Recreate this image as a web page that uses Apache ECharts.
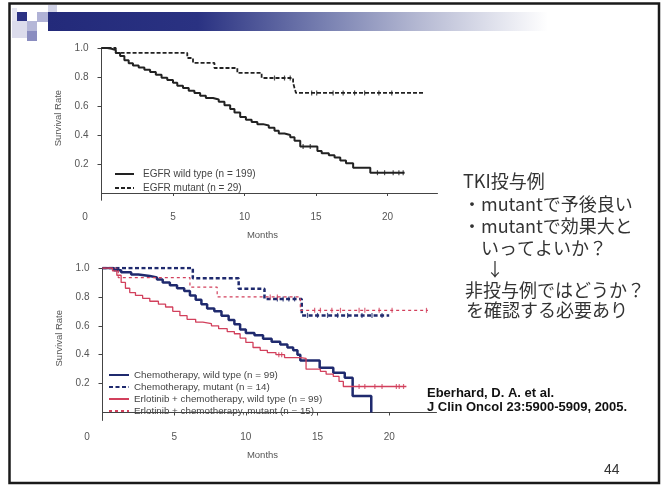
<!DOCTYPE html>
<html>
<head>
<meta charset="utf-8">
<script src="https://cdn.jsdelivr.net/npm/echarts@6/dist/echarts.min.js"></script>
<style>
  html, body { margin: 0; padding: 0; background: #fff; }
  #chart { width: 665px; height: 487px; }
</style>
</head>
<body>
<div id="chart"></div>
<script>
// ---- axis ticks ----
const monthLabels = [5, 10, 15, 20];
const rateLabels = [0.2, 0.4, 0.6, 0.8, 1.0];

// ---- upper panel: all patients treated with erlotinib + chemo, by EGFR status ----
const upperNames = ['EGFR wild type (n = 199)', 'EGFR mutant (n = 29)'];
// [month, survival] at each drop of the Kaplan-Meier curve
const upperWild = [
  [0, 1], [0.4, 0.995], [0.7, 0.985], [1.0, 0.965], [1.3, 0.945], [1.6, 0.915], [1.9, 0.895],
  [2.2, 0.88], [2.6, 0.865], [3.0, 0.85], [3.4, 0.835], [3.8, 0.815], [4.2, 0.795], [4.6, 0.78],
  [5.0, 0.76], [5.3, 0.74], [5.7, 0.725], [6.1, 0.705], [6.5, 0.69], [6.9, 0.67], [7.3, 0.655],
  [7.8, 0.645], [8.2, 0.63], [8.6, 0.605], [9.0, 0.58], [9.3, 0.555], [9.7, 0.525], [10.1, 0.505],
  [10.5, 0.49], [10.9, 0.475], [11.3, 0.465], [11.7, 0.45], [12.1, 0.43], [12.4, 0.41], [12.8, 0.40],
  [13.2, 0.385], [13.5, 0.36], [13.9, 0.32], [15.1, 0.29], [15.4, 0.275], [15.9, 0.26], [16.3, 0.245],
  [16.7, 0.225], [17.1, 0.205], [17.6, 0.175], [18.8, 0.14], [21.2, 0.14]
];
const upperMutant = [
  [0, 1], [1.0, 0.966], [6.0, 0.931], [6.4, 0.897], [7.9, 0.862], [9.5, 0.828],
  [11.2, 0.793], [13.4, 0.759], [13.5, 0.724], [13.6, 0.69], [22.5, 0.69]
];
const upperWildCensored = [
  [14.1, 0.32], [14.6, 0.32], [19.3, 0.14], [19.8, 0.14], [20.4, 0.14], [20.8, 0.14], [21.1, 0.14]
];
const upperMutantCensored = [
  [12.1, 0.793], [12.8, 0.793], [13.2, 0.793], [14.7, 0.69], [15.05, 0.69], [16.2, 0.69],
  [16.9, 0.69], [17.7, 0.69], [18.4, 0.69], [19.4, 0.69], [20.3, 0.69]
];

// ---- lower panel: by treatment arm and EGFR status ----
const lowerNames = [
  'Chemotherapy, wild type (n = 99)',
  'Chemotherapy, mutant (n = 14)',
  'Erlotinib + chemotherapy, wild type (n = 99)',
  'Erlotinib + chemotherapy, mutant (n = 15)'
];
const chemoWild = [
  [0, 1], [0.8, 0.985], [1.3, 0.97], [2.0, 0.955], [2.5, 0.945], [3.3, 0.935], [3.8, 0.92],
  [4.2, 0.90], [4.7, 0.88], [5.2, 0.86], [5.7, 0.84], [6.1, 0.81], [6.5, 0.78], [6.9, 0.75],
  [7.3, 0.72], [7.8, 0.70], [8.3, 0.67], [8.8, 0.64], [9.2, 0.61], [9.6, 0.575], [10.0, 0.55],
  [10.6, 0.535], [11.2, 0.51], [11.8, 0.49], [12.4, 0.47], [12.9, 0.45], [13.3, 0.43],
  [13.6, 0.40], [13.8, 0.36], [15.15, 0.31], [16.1, 0.275], [16.9, 0.24], [17.45, 0.115],
  [18.75, 0.0]
];
const chemoMutant = [
  [0, 1], [6.3, 0.929], [9.5, 0.857], [11.3, 0.786], [13.9, 0.672], [20.0, 0.672]
];
const erlotinibWild = [
  [0, 1], [0.7, 0.98], [1.0, 0.95], [1.3, 0.90], [1.6, 0.86], [1.9, 0.83], [2.3, 0.81],
  [2.8, 0.79], [3.3, 0.77], [3.9, 0.75], [4.4, 0.73], [4.9, 0.70], [5.4, 0.67], [5.9, 0.645],
  [6.5, 0.625], [7.0, 0.615], [7.6, 0.60], [8.1, 0.58], [8.7, 0.56], [9.2, 0.545], [9.6, 0.515],
  [10.0, 0.485], [10.5, 0.45], [11.0, 0.43], [11.5, 0.415], [12.1, 0.40], [12.7, 0.38],
  [13.8, 0.375], [14.2, 0.30], [15.2, 0.285], [15.6, 0.265], [16.1, 0.25], [16.5, 0.215],
  [16.8, 0.18], [21.2, 0.18]
];
const erlotinibMutant = [
  [0, 1], [1.1, 0.933], [6.1, 0.867], [8.0, 0.80], [13.8, 0.707], [22.7, 0.707]
];
const chemoMutantCensored = [
  [12.2, 0.786], [12.6, 0.786], [13.0, 0.786], [13.4, 0.786], [14.3, 0.672], [15.0, 0.672],
  [15.7, 0.672], [16.4, 0.672], [17.1, 0.672], [18.1, 0.672], [18.8, 0.672], [19.5, 0.672]
];
const erlotinibWildCensored = [
  [12.3, 0.40], [12.5, 0.40], [17.9, 0.18], [18.3, 0.18], [19.0, 0.18], [19.5, 0.18],
  [20.5, 0.18], [20.7, 0.18], [21.0, 0.18]
];
const erlotinibMutantCensored = [
  [11.7, 0.80], [12.2, 0.80], [14.8, 0.707], [15.2, 0.707], [16.0, 0.707], [16.6, 0.707],
  [17.9, 0.707], [18.3, 0.707], [19.3, 0.707], [20.2, 0.707], [22.6, 0.707]
];

// ---- slide text ----
const noteLines = [
  { text: 'TKI投与例', x: 463, y: 181.5 },
  { text: '・mutantで予後良い', x: 463, y: 204.5 },
  { text: '・mutantで効果大と', x: 463, y: 226.5 },
  { text: 'いってよいか？', x: 481, y: 248 },
  { text: '↓', x: 486, y: 269 },
  { text: '非投与例ではどうか？', x: 465, y: 290 },
  { text: 'を確認する必要あり', x: 466, y: 310.5 }
];
const citation = ['Eberhard, D. A. et al.', 'J Clin Oncol 23:5900-5909, 2005.'];
const pageNumber = '44';

const NAVY = '#1f2a6e';
const RED = '#d2405c';
const INK = '#222';
const AXIS_GREY = '#555';
const LATIN = "'Liberation Sans', Arial, sans-serif";
const JP = "'Noto Sans CJK JP', sans-serif";

function xAxisFor(gridIndex, max) {
  return {
    type: 'value', gridIndex, min: 0, max, interval: 5,
    name: 'Months', nameLocation: 'middle', nameGap: 30,
    nameTextStyle: { fontFamily: LATIN, fontSize: 9.5, color: AXIS_GREY, padding: [0, 14, 0, 0] },
    axisLine: { show: true, lineStyle: { color: '#444', width: 1 } },
    axisTick: { show: true, length: 3, customValues: monthLabels, lineStyle: { color: '#444' } },
    axisLabel: { customValues: monthLabels, margin: 12, fontFamily: LATIN, fontSize: 10, color: AXIS_GREY },
    splitLine: { show: false }
  };
}
function yAxisFor(gridIndex, min) {
  return {
    type: 'value', gridIndex, min, max: 1.0,
    name: 'Survival Rate', nameLocation: 'middle', nameGap: 37, nameRotate: 90,
    nameTextStyle: { fontFamily: LATIN, fontSize: 9.5, color: AXIS_GREY, padding: [0, 0, 0, 12] },
    axisLine: { show: true, lineStyle: { color: '#444', width: 1 } },
    axisTick: { show: true, length: 4, customValues: rateLabels, lineStyle: { color: '#444' } },
    axisLabel: {
      customValues: rateLabels, margin: 13, fontFamily: LATIN, fontSize: 10, color: AXIS_GREY,
      formatter: v => v.toFixed(1)
    },
    splitLine: { show: false }
  };
}
function curve(name, data, idx, color, width, dashed) {
  return {
    name, type: 'line', step: 'end', data, xAxisIndex: idx, yAxisIndex: idx,
    showSymbol: false, symbol: 'none', animation: false, silent: true,
    lineStyle: { color, width, type: dashed ? dashed : 'solid' },
    itemStyle: { color }
  };
}
function ticks(data, idx, color) {
  return {
    type: 'scatter', data, xAxisIndex: idx, yAxisIndex: idx, animation: false, silent: true,
    symbol: 'rect', symbolSize: [1.2, 5], itemStyle: { color }, z: 3
  };
}

const graphic = [
  // slide frame
  { type: 'rect', shape: { x: 9.5, y: 3.5, width: 649.5, height: 479.5 },
    style: { fill: 'none', stroke: '#1a1a1a', lineWidth: 2.5 }, z: 10 },
  // title band
  { type: 'rect', shape: { x: 48, y: 12, width: 500, height: 19 },
    style: { fill: { type: 'linear', x: 0, y: 0, x2: 1, y2: 0, colorStops: [
      { offset: 0, color: '#232a7a' }, { offset: 0.3, color: '#2a3282' },
      { offset: 0.56, color: '#7a82b2' }, { offset: 0.74, color: '#b4b8d2' },
      { offset: 1, color: '#ffffff' } ] } } },
  // decorative squares
  { type: 'rect', shape: { x: 12, y: 21, width: 15, height: 17 }, style: { fill: '#dcdcec' } },
  { type: 'rect', shape: { x: 12, y: 8, width: 5, height: 13 }, style: { fill: '#e4e4f0' } },
  { type: 'rect', shape: { x: 17, y: 12, width: 10, height: 9 }, style: { fill: '#2b3183' } },
  { type: 'rect', shape: { x: 27, y: 21, width: 10, height: 10 }, style: { fill: '#b5b7d8' } },
  { type: 'rect', shape: { x: 27, y: 31, width: 10, height: 10 }, style: { fill: '#8a8dc0' } },
  { type: 'rect', shape: { x: 37, y: 12, width: 11, height: 10 }, style: { fill: '#b0b2d6' } },
  { type: 'rect', shape: { x: 48, y: 5, width: 9, height: 7 }, style: { fill: '#d0d2e6' } },
  // origin labels of both panels
  { type: 'text', x: 85, y: 217.5, style: { text: '0', fontFamily: LATIN, fontSize: 10, fill: AXIS_GREY, align: 'center', verticalAlign: 'middle' } },
  { type: 'text', x: 87, y: 437, style: { text: '0', fontFamily: LATIN, fontSize: 10, fill: AXIS_GREY, align: 'center', verticalAlign: 'middle' } },
  // citation and page number
  { type: 'text', x: 427, y: 393.5, style: { text: citation[0], fontFamily: LATIN, fontWeight: 'bold', fontSize: 13, fill: '#111', verticalAlign: 'middle' } },
  { type: 'text', x: 427, y: 407.5, style: { text: citation[1], fontFamily: LATIN, fontWeight: 'bold', fontSize: 13, fill: '#111', verticalAlign: 'middle' } },
  { type: 'text', x: 604, y: 470, style: { text: pageNumber, fontFamily: LATIN, fontSize: 14, fill: '#333', verticalAlign: 'middle' } }
].concat(noteLines.map(l => ({
  type: 'text', x: l.x, y: l.y,
  style: { text: l.text, fontFamily: JP, fontSize: 18, fill: '#333', verticalAlign: 'middle' }
})));

const option = {
  backgroundColor: '#fff',
  animation: false,
  grid: [
    { left: 101.5, top: 48, width: 336, height: 152.25 },
    { left: 102.5, top: 268, width: 334, height: 152.45 }
  ],
  xAxis: [xAxisFor(0, 23.5), xAxisFor(1, 23.3)],
  yAxis: [yAxisFor(0, -0.05), yAxisFor(1, -0.055)],
  legend: [
    {
      data: upperNames, orient: 'vertical', left: 114, top: 169, padding: 0,
      itemWidth: 19, itemHeight: 10, itemGap: 4,
      itemStyle: { opacity: 0 },
      textStyle: { fontFamily: LATIN, fontSize: 10, color: '#444', padding: [0, 0, 0, 4] },
      selectedMode: false
    },
    {
      data: lowerNames, orient: 'vertical', left: 108, top: 370, padding: 0,
      itemWidth: 20, itemHeight: 10, itemGap: 2,
      itemStyle: { opacity: 0 },
      textStyle: { fontFamily: LATIN, fontSize: 9.8, color: '#444' },
      selectedMode: false
    }
  ],
  series: [
    curve(upperNames[0], upperWild, 0, INK, 2),
    curve(upperNames[1], upperMutant, 0, INK, 1.8, [4, 2]),
    ticks(upperWildCensored, 0, INK),
    ticks(upperMutantCensored, 0, INK),
    curve(lowerNames[0], chemoWild, 1, NAVY, 2.5),
    curve(lowerNames[1], chemoMutant, 1, NAVY, 2.5, [4, 2.5]),
    curve(lowerNames[2], erlotinibWild, 1, RED, 1.3),
    curve(lowerNames[3], erlotinibMutant, 1, RED, 1.2, [3, 3]),
    ticks(chemoMutantCensored, 1, NAVY),
    ticks(erlotinibWildCensored, 1, RED),
    ticks(erlotinibMutantCensored, 1, RED)
  ],
  graphic
};

echarts.init(document.getElementById('chart'), null, { renderer: 'canvas' }).setOption(option);
</script>
</body>
</html>
